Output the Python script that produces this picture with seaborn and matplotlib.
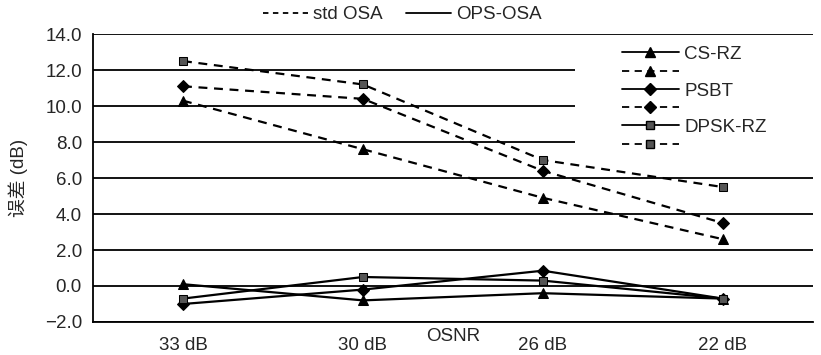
import matplotlib
matplotlib.use("Agg")
import matplotlib.pyplot as plt
from matplotlib.lines import Line2D
from matplotlib.patches import Rectangle
import pandas as pd
import seaborn as sns

# data
osnr = ["33 dB", "30 dB", "26 dB", "22 dB"]
cs_rz_std = [10.3, 7.6, 4.9, 2.6]
psbt_std = [11.1, 10.4, 6.4, 3.5]
dpsk_std = [12.5, 11.2, 7.0, 5.5]
cs_rz_ops = [0.1, -0.8, -0.4, -0.7]
psbt_ops = [-1.0, -0.2, 0.85, -0.7]
dpsk_ops = [-0.7, 0.5, 0.3, -0.7]
y_ticks = [-2, 0, 2, 4, 6, 8, 10, 12, 14]

sns.set_style("white")
plt.rcParams["font.family"] = ["Liberation Sans", "Noto Sans CJK SC", "DejaVu Sans"]
plt.rcParams["axes.unicode_minus"] = False
fs = 13.5

fig = plt.figure(figsize=(8.21, 3.55), dpi=100)
ax = fig.add_axes([0.1133, 0.093, 0.8767, 0.811])

for y in y_ticks:
    ax.axhline(y, color="black", lw=1.3, zorder=0)

# white background behind the legend (hides the gridlines there)
ax.add_patch(Rectangle((0.669, 0.6), 0.331, 0.37, transform=ax.transAxes,
                       facecolor="white", edgecolor="none", zorder=1))

series = [
    ("CS-RZ", cs_rz_ops, cs_rz_std, "^", 7.5, "black"),
    ("PSBT", psbt_ops, psbt_std, "D", 6.5, "black"),
    ("DPSK-RZ", dpsk_ops, dpsk_std, "s", 6, "#555555"),
]

handles = []
labels = []
for name, ops, std, mk, ms, fc in series:
    df = pd.DataFrame({"osnr": osnr, "ops": ops, "std": std})
    sns.lineplot(data=df, x="osnr", y="ops", ax=ax, color="black", lw=1.6,
                 marker=mk, markersize=ms, markerfacecolor=fc,
                 markeredgecolor="black", zorder=3, sort=False)
    sns.lineplot(data=df, x="osnr", y="std", ax=ax, color="black", lw=1.6,
                 linestyle=(0, (4, 3)), marker=mk, markersize=ms,
                 markerfacecolor=fc, markeredgecolor="black", zorder=3, sort=False)
    handles.append(Line2D([], [], color="black", lw=1.3, marker=mk, markersize=ms,
                          markerfacecolor=fc, markeredgecolor="black"))
    labels.append(name)
    handles.append(Line2D([], [], color="black", lw=1.3, linestyle=(0, (4, 3)),
                          marker=mk, markersize=ms, markerfacecolor=fc,
                          markeredgecolor="black"))
    labels.append("")

ax.set_xlim(-0.5, 3.5)
ax.set_ylim(-2, 14)
ax.set_yticks(y_ticks)
ax.set_yticklabels([f"{v:.1f}".replace("-", "\u2212") for v in y_ticks], fontsize=fs)
ax.set_xticks(range(4))
ax.set_xticklabels(osnr, fontsize=fs)
ax.set_xticks([0.5, 1.5, 2.5], minor=True)
ax.tick_params(axis="x", which="major", length=0, pad=10.5)
ax.tick_params(axis="x", which="minor", length=5, width=1.3, direction="out", color="black")
ax.tick_params(axis="y", length=5, width=1.3, direction="out", color="black", pad=3)
ax.annotate("OSNR", xy=(1.5, 0), xycoords=("data", "axes fraction"),
            xytext=(0, -15), textcoords="offset pixels", ha="center",
            va="center", fontsize=fs)
ax.set_xlabel("")
ax.set_ylabel("误差 (dB)", fontsize=fs, labelpad=12)

for side in ["top", "right"]:
    ax.spines[side].set_visible(False)
for side in ["left", "bottom"]:
    ax.spines[side].set_color("black")
    ax.spines[side].set_linewidth(1.3)

leg = ax.legend(handles, labels, loc="upper left", bbox_to_anchor=(0.725, 0.985),
                frameon=False, fontsize=fs, handlelength=3.0, handletextpad=0.3,
                labelspacing=0.06, borderaxespad=0)
leg.set_zorder(4)

top_handles = [Line2D([], [], color="black", lw=1.3, linestyle=(0, (3, 2.5))),
               Line2D([], [], color="black", lw=1.3)]
fig.legend(top_handles, ["std OSA", "OPS-OSA"], loc="center", ncol=2,
           bbox_to_anchor=(0.49, 0.958), frameon=False, fontsize=fs,
           handlelength=2.4, handletextpad=0.3, columnspacing=1.2)

fig.savefig("out.png", dpi=100)
